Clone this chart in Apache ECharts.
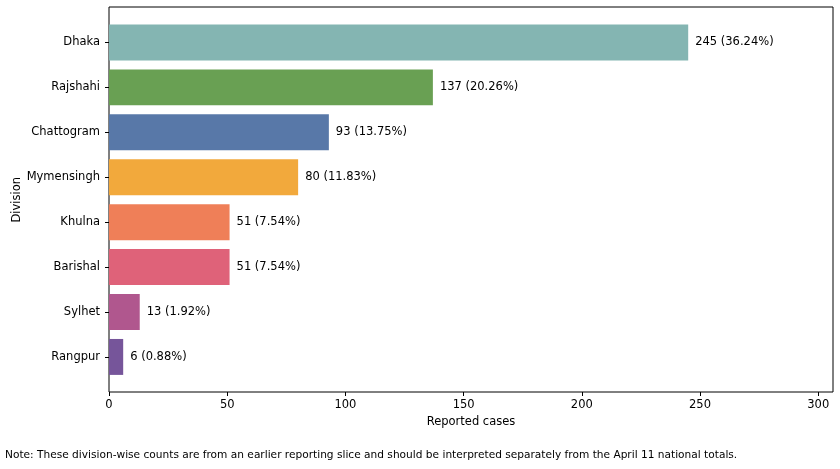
<!DOCTYPE html>
<html lang="en">
  <head>
    <meta charset="UTF-8" />
    <title>Division-wise reported cases</title>
    <style>
      html, body { margin: 0; padding: 0; background: #fff; }
      #container { width: 840px; height: 469px; }
    </style>
    <script src="https://cdn.jsdelivr.net/npm/echarts@6/dist/echarts.min.js"></script>
  </head>
  <body>
    <div id="container"></div>
    <script>
      const divisions = ['Dhaka', 'Rajshahi', 'Chattogram', 'Mymensingh', 'Khulna', 'Barishal', 'Sylhet', 'Rangpur']
      const cases = [245, 137, 93, 80, 51, 51, 13, 6]
      const shares = ['36.24', '20.26', '13.75', '11.83', '7.54', '7.54', '1.92', '0.88']
      const barColors = ['#84b5b2', '#69a053', '#5878a8', '#f2a93c', '#ef7f58', '#df6279', '#b0578e', '#76559a']
      const xTicks = [0, 50, 100, 150, 200, 250, 300]

      const font = 'DejaVu Sans'
      const xMax = 306.25

      const chart = echarts.init(document.getElementById('container'))

      chart.setOption({
        animation: false,
        grid: [
          // bars
          { left: 109, right: 7, top: 20, bottom: 89.6, containLabel: false, outerBoundsMode: 'none' },
          // frame + x axis
          {
            left: 109, right: 7, top: 7, bottom: 77,
            containLabel: false, outerBoundsMode: 'none',
            show: true, borderColor: '#000', borderWidth: 1, backgroundColor: 'transparent',
          },
        ],
        xAxis: [
          { gridIndex: 0, type: 'value', min: 0, max: xMax, show: false },
          {
            gridIndex: 1,
            type: 'value',
            min: 0,
            max: xMax,
            interval: 50,
            name: 'Reported cases',
            nameLocation: 'middle',
            nameGap: 24,
            nameMoveOverlap: false,
            nameTextStyle: { fontFamily: font, fontSize: 11.5, color: '#000' },
            axisLine: { show: false },
            axisTick: { show: true, length: 4, lineStyle: { color: '#000' }, customValues: xTicks },
            axisLabel: { fontFamily: font, fontSize: 11.5, color: '#000', margin: 7, customValues: xTicks, showMaxLabel: true },
            splitLine: { show: false },
          },
        ],
        yAxis: [
          {
            gridIndex: 0,
            type: 'category',
            data: divisions,
            inverse: true,
            name: 'Division',
            nameLocation: 'middle',
            nameGap: 86,
            nameMoveOverlap: false,
            nameTextStyle: { fontFamily: font, fontSize: 11.5, color: '#000' },
            axisLine: { show: false },
            axisTick: { show: true, alignWithLabel: true, length: 4, lineStyle: { color: '#000' } },
            axisLabel: { fontFamily: font, fontSize: 11.5, color: '#000', margin: 9 },
          },
          { gridIndex: 1, type: 'value', min: 0, max: 1, show: false },
        ],
        series: [
          {
            type: 'bar',
            xAxisIndex: 0,
            yAxisIndex: 0,
            barWidth: '80%',
            data: cases.map((v, i) => ({ value: v, itemStyle: { color: barColors[i] } })),
            label: {
              show: true,
              position: 'right',
              distance: 7,
              fontFamily: font,
              fontSize: 11.5,
              color: '#000',
              formatter: (p) => cases[p.dataIndex] + ' (' + shares[p.dataIndex] + '%)',
            },
          },
        ],
        graphic: [
          {
            type: 'text',
            left: 5,
            top: 450,
            style: {
              text: 'Note: These division-wise counts are from an earlier reporting slice and should be interpreted separately from the April 11 national totals.',
              fontFamily: font,
              fontSize: 10.6,
              fill: '#000',
            },
          },
        ],
      })
    </script>
  </body>
</html>
